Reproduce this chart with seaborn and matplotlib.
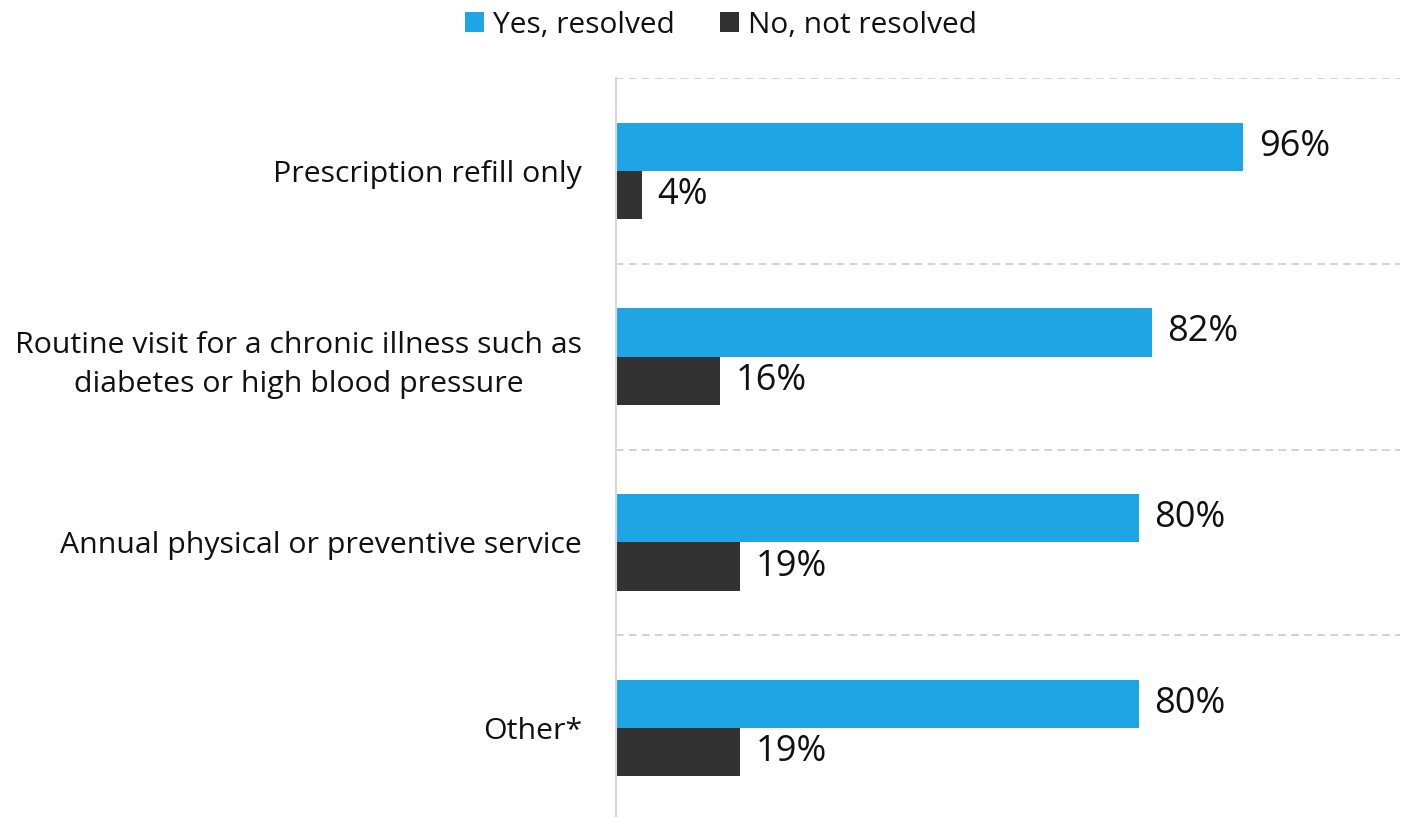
import matplotlib
matplotlib.use("Agg")
import matplotlib.pyplot as plt
import seaborn as sns
import pandas as pd
import numpy as np

categories = [
    "Prescription refill only",
    "Routine visit for a chronic illness such as\ndiabetes or high blood pressure",
    "Annual physical or preventive service",
    "Other*",
]
series_names = ["Yes, resolved", "No, not resolved"]
yes_resolved = [96, 82, 80, 80]
not_resolved = [4, 16, 19, 19]
colors = ["#1FA4E4", "#323232"]

df = pd.DataFrame({
    "category": categories * 2,
    "status": [series_names[0]] * len(categories) + [series_names[1]] * len(categories),
    "value": yes_resolved + not_resolved,
})

sns.set_theme(style="white")
plt.rcParams["font.family"] = ["Open Sans", "DejaVu Sans"]

fig = plt.figure(figsize=(14.14, 8.17), dpi=100)
ax = fig.add_axes([615.5 / 1414, -4 / 817, (1400 - 615.5) / 1414, (821 - 78) / 817])

sns.barplot(
    data=df, y="category", x="value", hue="status", orient="h",
    order=categories, hue_order=series_names, palette=colors,
    width=0.52, saturation=1, linewidth=0, ax=ax,
)

ax.set_xlim(0, 120)
ax.set_ylim(len(categories) - 0.5, -0.5)
ax.set_xlabel("")
ax.set_ylabel("")
ax.set_xticks([])

# dashed separators between category bands
ax.set_yticks(np.arange(-0.5, len(categories) - 0.5, 1.0), minor=True)
ax.tick_params(axis="y", which="both", length=0, pad=24, labelsize=21.8, labelcolor="#111111")
ax.grid(False)
ax.grid(True, axis="y", which="minor", color="#C8C8C8", linestyle=(0, (5, 3.5)), linewidth=1.1)
for lab in ax.get_yticklabels():
    lab.set_multialignment("center")
    lab.set_linespacing(1.45)

for side in ["top", "right", "bottom"]:
    ax.spines[side].set_visible(False)
ax.spines["left"].set_color("#D9D9D9")
ax.spines["left"].set_linewidth(1.5)

for cont in ax.containers:
    ax.bar_label(cont, fmt="%.0f%%", padding=11.5, fontsize=26, color="#111111")

handles, labels = ax.get_legend_handles_labels()
if ax.get_legend() is not None:
    ax.get_legend().remove()
fig.legend(
    handles, labels, loc="upper center", bbox_to_anchor=(0.51, 1.02), ncol=2,
    frameon=False, fontsize=21.5, handlelength=0.65, handleheight=0.65,
    handletextpad=0.3, columnspacing=1.5, labelcolor="#111111",
)

fig.savefig("out.png", dpi=100)
